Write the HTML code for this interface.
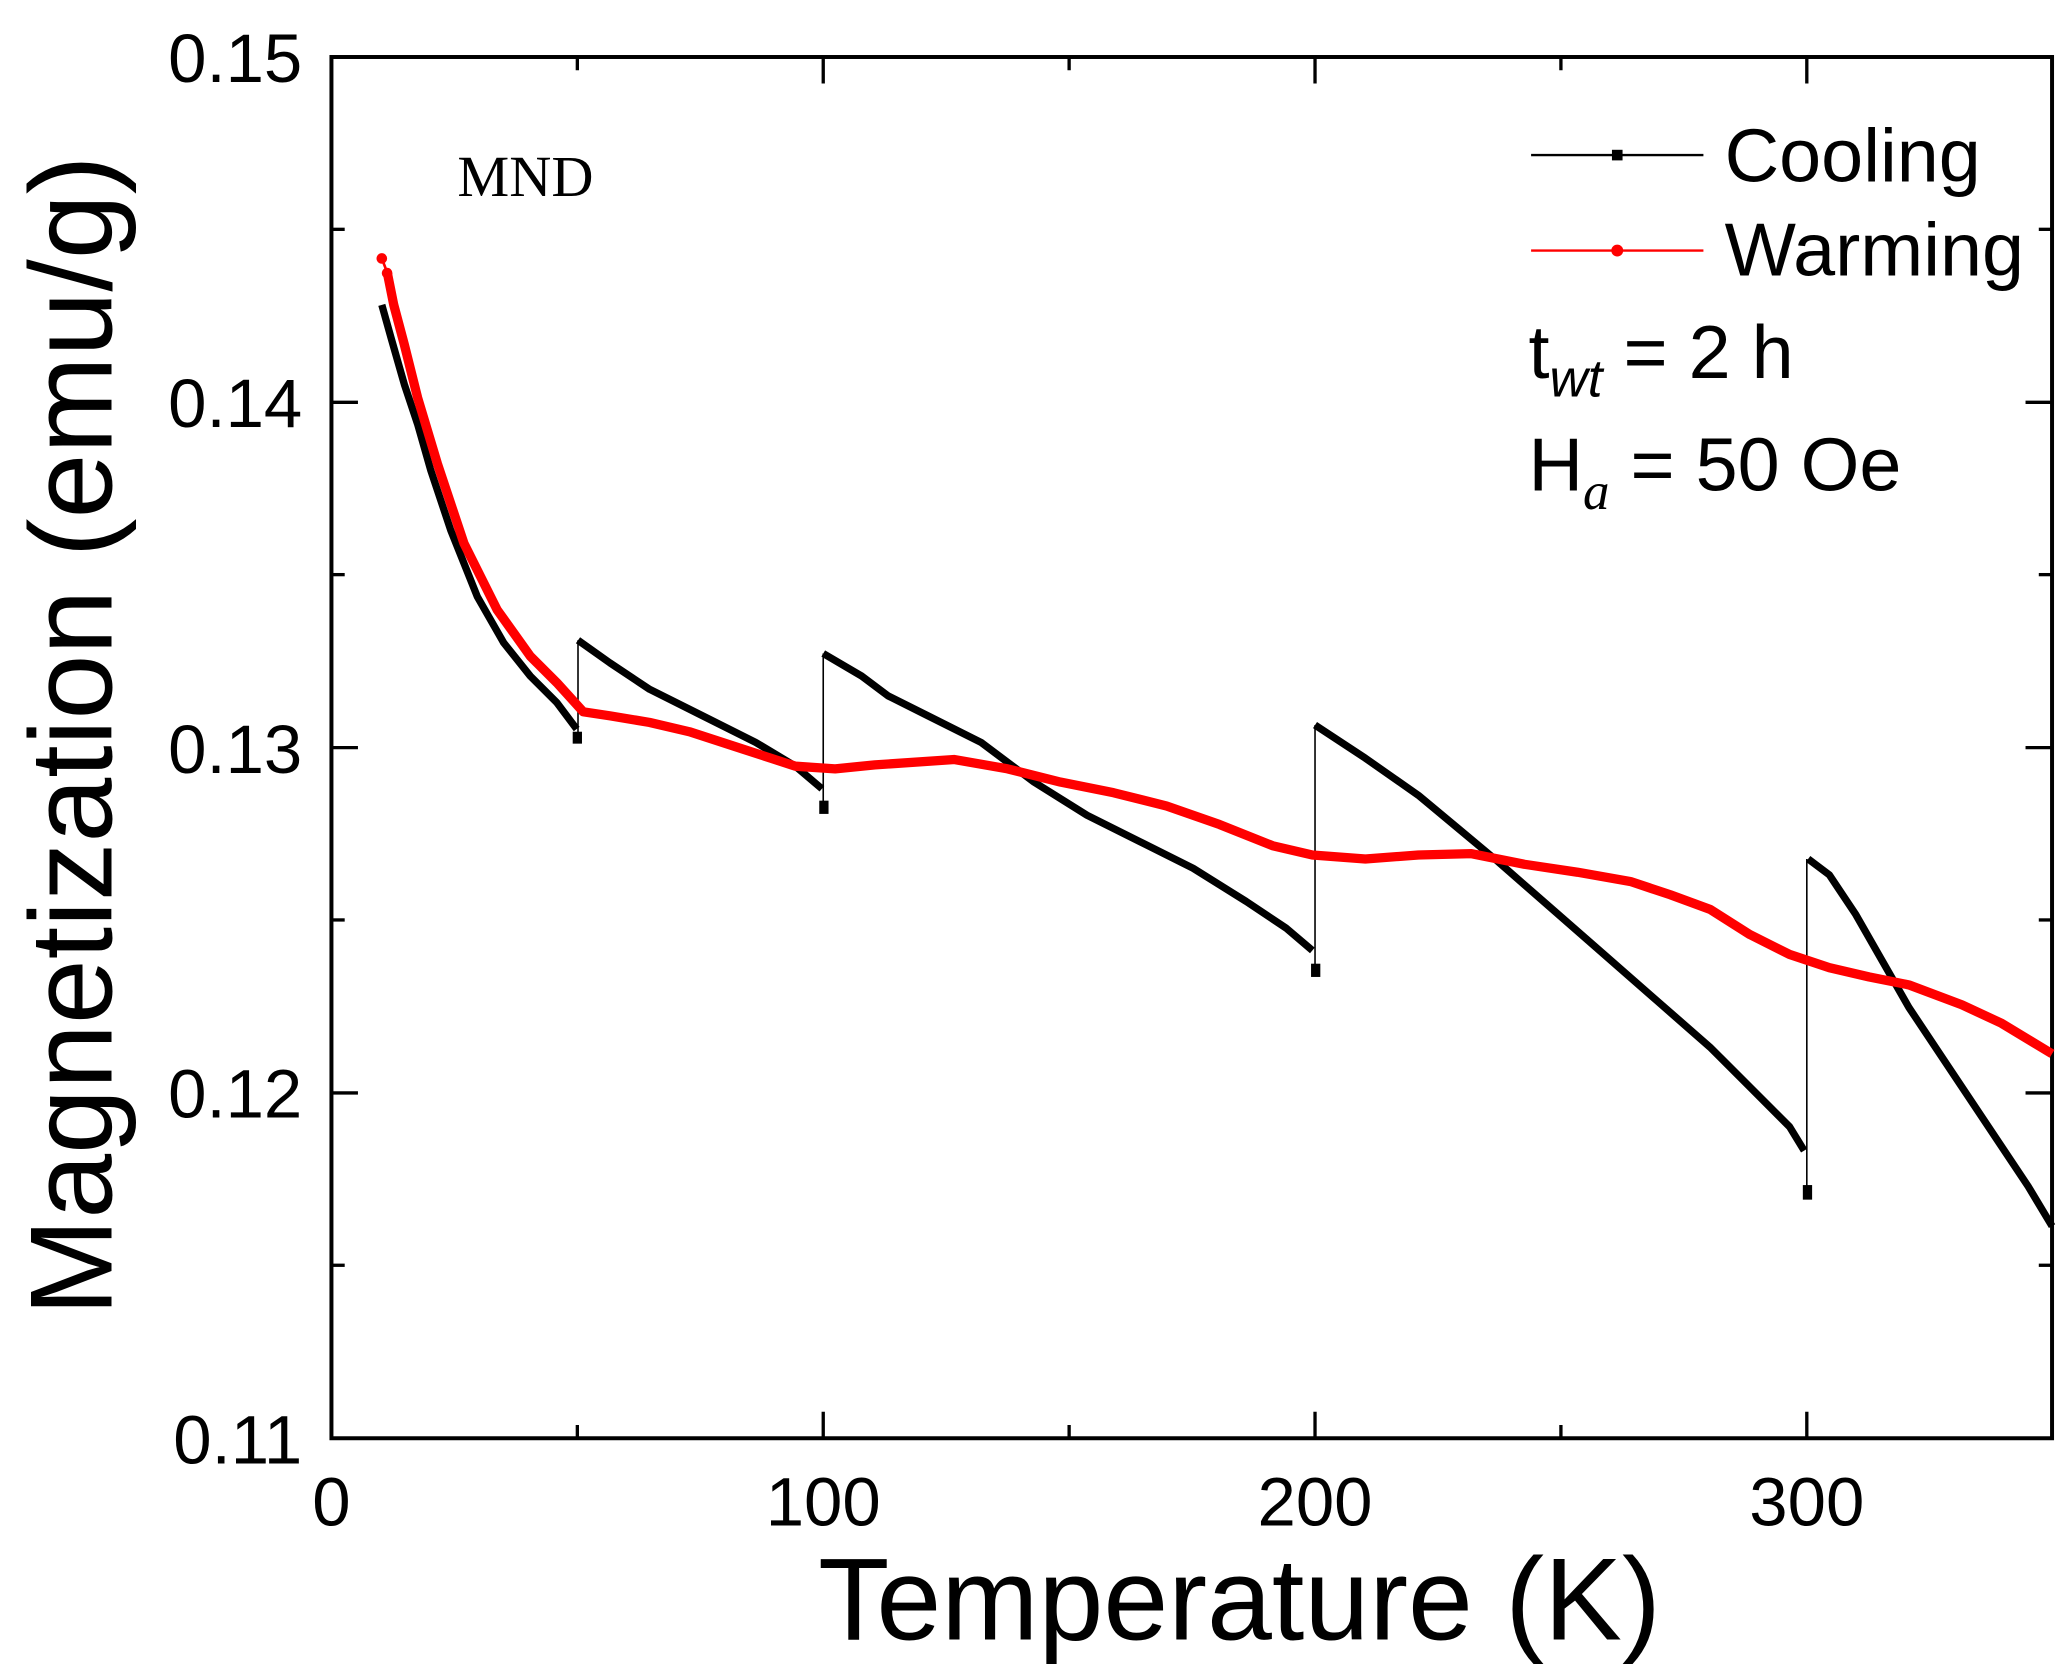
<!DOCTYPE html>
<html><head><meta charset="utf-8"><style>html,body{margin:0;padding:0;background:#fff}svg{display:block}</style></head>
<body>
<svg width="2068" height="1675" viewBox="0 0 1560 1263.6" xmlns="http://www.w3.org/2000/svg" font-family="Liberation Sans, Arial, sans-serif">
<rect x="0" y="0" width="1560" height="1264" fill="#fff"/>
<rect x="250" y="43" width="1298" height="1042" fill="none" stroke="#000" stroke-width="3"/>
<g stroke="#000" stroke-width="2.5">
<line x1="621" y1="1085" x2="621" y2="1065"/><line x1="992" y1="1085" x2="992" y2="1065"/><line x1="1363" y1="1085" x2="1363" y2="1065"/>
<line x1="621" y1="43" x2="621" y2="63"/><line x1="992" y1="43" x2="992" y2="63"/><line x1="1363" y1="43" x2="1363" y2="63"/>
<line x1="435.5" y1="1085" x2="435.5" y2="1075"/><line x1="806.5" y1="1085" x2="806.5" y2="1075"/><line x1="1177.5" y1="1085" x2="1177.5" y2="1075"/>
<line x1="435.5" y1="43" x2="435.5" y2="53"/><line x1="806.5" y1="43" x2="806.5" y2="53"/><line x1="1177.5" y1="43" x2="1177.5" y2="53"/>
<line x1="250" y1="303.5" x2="270" y2="303.5"/><line x1="250" y1="564" x2="270" y2="564"/><line x1="250" y1="824.5" x2="270" y2="824.5"/>
<line x1="1548" y1="303.5" x2="1528" y2="303.5"/><line x1="1548" y1="564" x2="1528" y2="564"/><line x1="1548" y1="824.5" x2="1528" y2="824.5"/>
<line x1="250" y1="173" x2="260" y2="173"/><line x1="250" y1="433.5" x2="260" y2="433.5"/><line x1="250" y1="694" x2="260" y2="694"/><line x1="250" y1="954.5" x2="260" y2="954.5"/>
<line x1="1548" y1="173" x2="1538" y2="173"/><line x1="1548" y1="433.5" x2="1538" y2="433.5"/><line x1="1548" y1="694" x2="1538" y2="694"/><line x1="1548" y1="954.5" x2="1538" y2="954.5"/>
</g>
<g font-size="52" text-anchor="end" fill="#000">
<text x="228" y="62">0.15</text><text x="228" y="322">0.14</text><text x="228" y="583">0.13</text><text x="228" y="843">0.12</text><text x="228" y="1104">0.11</text>
</g>
<g font-size="52" text-anchor="middle" fill="#000">
<text x="250" y="1151">0</text><text x="621" y="1151">100</text><text x="992" y="1151">200</text><text x="1363" y="1151">300</text>
</g>
<text x="935" y="1237" font-size="88" text-anchor="middle">Temperature (K)</text>
<text transform="translate(84,555) rotate(-90)" font-size="88" text-anchor="middle">Magnetization (emu/g)</text>
<text x="345" y="148" font-family="Liberation Serif, serif" font-size="44">MND</text>
<g fill="none" stroke="#000" stroke-linejoin="round">
<polyline stroke-width="5.5" points="288,230 295,255 305,290 315,320 325,355 340,400 360,450 380,485 400,510 420,530 435,550"/>
<polyline stroke-width="5.5" points="436,483 460,500 490,520 530,540 570,560 600,578 620,595"/>
<polyline stroke-width="5.5" points="621,493 650,510 670,525 700,540 740,560 780,590 820,615 860,635 900,655 940,680 970,700 990,717"/>
<polyline stroke-width="5.5" points="992,547 1030,572 1070,600 1100,625 1130,650 1170,685 1210,720 1250,755 1290,790 1320,820 1350,850 1361,868"/>
<polyline stroke-width="5.5" points="1364,648 1380,660 1400,690 1420,725 1440,760 1470,805 1500,850 1530,895 1548,925"/>
<g stroke-width="1.2"><line x1="436" y1="557" x2="436" y2="483"/><line x1="621" y1="610" x2="621" y2="493"/><line x1="992" y1="732" x2="992" y2="547"/><line x1="1363" y1="900" x2="1363" y2="648"/></g>
</g>
<g fill="#000"><rect x="432" y="552" width="7" height="9"/><rect x="618" y="604" width="7" height="10"/><rect x="989" y="727" width="7" height="10"/><rect x="1360" y="894" width="7" height="11"/></g>
<polyline fill="none" stroke="#f00" stroke-width="7" stroke-linejoin="round" points="292,205 297,230 305,260 315,300 330,350 350,410 375,460 400,495 420,515 440,537 460,540 490,545 520,552 560,565 600,578 630,580 660,577 720,573 760,580 800,590 840,598 880,608 920,622 960,638 990,645 1030,648 1070,645 1110,644 1150,652 1190,658 1230,665 1260,675 1290,686 1320,705 1350,720 1380,730 1410,737 1440,743 1480,758 1510,772 1548,795"/>
<line x1="288" y1="195" x2="293" y2="208" stroke="#f00" stroke-width="2"/>
<circle cx="288" cy="195" r="4" fill="#f00"/><circle cx="292" cy="206" r="4" fill="#f00"/>
<line x1="1155" y1="117" x2="1285" y2="117" stroke="#000" stroke-width="1.8"/>
<rect x="1216" y="113" width="8" height="8" fill="#000"/>
<line x1="1155" y1="189" x2="1285" y2="189" stroke="#f00" stroke-width="1.8"/>
<circle cx="1220" cy="189" r="4.5" fill="#f00"/>
<g font-size="57" fill="#000">
<text x="1301" y="137">Cooling</text>
<text x="1301" y="208">Warming</text>
<text x="1153" y="285">t<tspan font-size="40" font-style="italic" dy="14">wt</tspan><tspan dy="-14"> = 2 h</tspan></text>
<text x="1153" y="370">H<tspan font-family="Liberation Serif, serif" font-size="40" font-style="italic" dy="14">a</tspan><tspan dy="-14"> = 50 Oe</tspan></text>
</g>
</svg>
</body></html>
